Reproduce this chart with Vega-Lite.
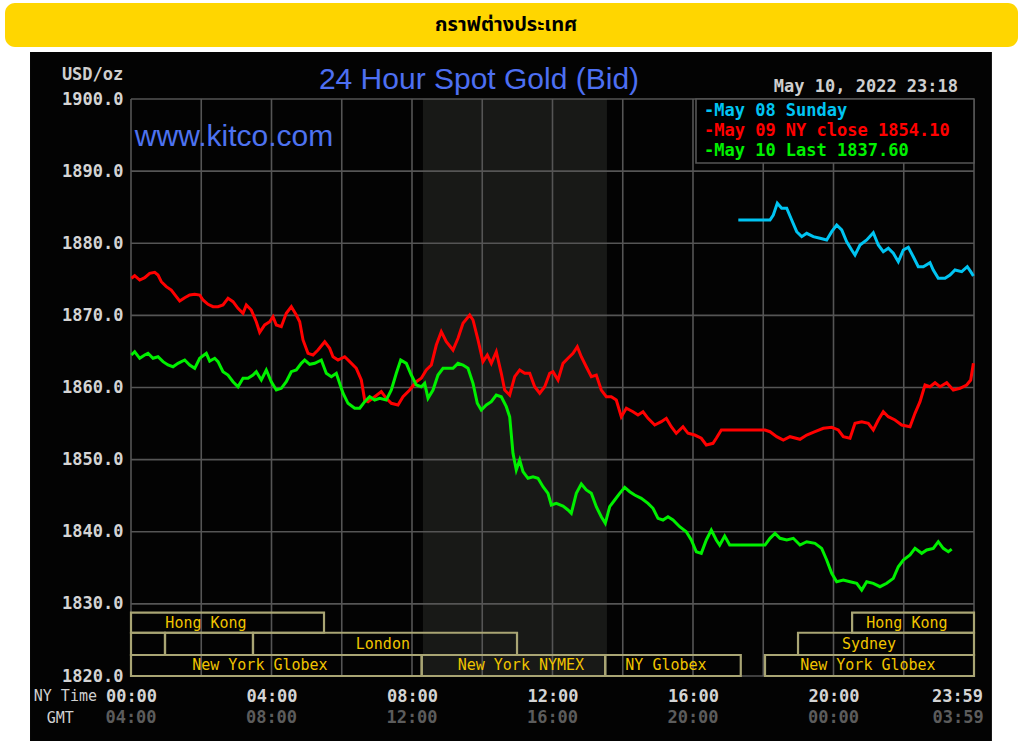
{
  "$schema": "https://vega.github.io/schema/vega-lite/v6.json",
  "width": 843,
  "height": 577,
  "autosize": {"type": "none"},
  "padding": {"left": 131, "top": 99, "right": 49, "bottom": 71},
  "background": "#ffffff",
  "config": {"view": {"stroke": null}},
  "encoding": {
    "x": {
      "field": "h", "type": "quantitative",
      "scale": {"domain": [0, 24], "nice": false, "zero": false},
      "axis": {
        "values": [0, 4, 8, 12, 16, 20, 24],
        "labelExpr": "datum.value == 24 ? '23:59' : (datum.value < 10 ? '0' : '') + datum.value + ':00'",
        "grid": false, "domain": false, "ticks": false, "zindex": 2,
        "labelFlush": false, "labelOverlap": false, "labelBound": false,
        "labelBaseline": "middle", "labelPadding": 20,
        "labelOffset": {"condition": {"test": "datum.value == 24", "value": -17}, "value": 0},
        "labelFont": "DejaVu Sans Mono", "labelFontWeight": "bold", "labelFontSize": 17,
        "labelColor": "#d4d4d4", "title": null
      }
    },
    "y": {
      "field": "p", "type": "quantitative",
      "scale": {"domain": [1820, 1900], "nice": false, "zero": false},
      "axis": {
        "values": [1820, 1830, 1840, 1850, 1860, 1870, 1880, 1890, 1900],
        "format": ".1f",
        "grid": false, "domain": false, "ticks": false, "zindex": 2,
        "labelOverlap": false, "labelFlush": false,
        "labelPadding": 8,
        "labelFont": "DejaVu Sans Mono", "labelFontWeight": "bold", "labelFontSize": 17,
        "labelColor": "#d4d4d4", "title": null
      }
    }
  },
  "layer": [
    {
      "data": {"values": [{"h": -3.587, "h2": 25.253, "p": 1913.31, "p2": 1907.21}]},
      "mark": {"type": "rect", "fill": "#FFD600", "cornerRadius": 10},
      "encoding": {"x2": {"field": "h2"}, "y2": {"field": "p2"}}
    },
    {
      "data": {"values": [{"h": 10.68, "p": 1910.26, "t": "กราฟต่างประเทศ"}]},
      "mark": {"type": "text", "font": "Noto Sans Thai, Noto Sans, DejaVu Sans, sans-serif", "fontSize": 20, "fontWeight": "bold", "color": "#000000", "align": "center", "baseline": "middle"},
      "encoding": {"text": {"field": "t"}}
    },
    {
      "data": {"values": [{"h": -2.875, "h2": 24.51, "p": 1906.52, "p2": 1810.99}]},
      "mark": {"type": "rect", "fill": "#030303"},
      "encoding": {"x2": {"field": "h2"}, "y2": {"field": "p2"}}
    },
    {
      "data": {"values": [{"h": 8.31, "h2": 13.55, "p": 1820, "p2": 1900}]},
      "mark": {"type": "rect", "fill": "#181917"},
      "encoding": {"x2": {"field": "h2"}, "y2": {"field": "p2"}}
    },
    {
      "data": {"values": [
        {"h": 0, "h2": 24, "p": 1820}, {"h": 0, "h2": 24, "p": 1830}, {"h": 0, "h2": 24, "p": 1840},
        {"h": 0, "h2": 24, "p": 1850}, {"h": 0, "h2": 24, "p": 1860}, {"h": 0, "h2": 24, "p": 1870},
        {"h": 0, "h2": 24, "p": 1880}, {"h": 0, "h2": 24, "p": 1890}, {"h": 0, "h2": 24, "p": 1900}
      ]},
      "mark": {"type": "rule", "stroke": "#555555", "strokeWidth": 1.6},
      "encoding": {"x2": {"field": "h2"}}
    },
    {
      "data": {"values": [
        {"h": 0, "p": 1820, "p2": 1900}, {"h": 2, "p": 1820, "p2": 1900}, {"h": 4, "p": 1820, "p2": 1900},
        {"h": 6, "p": 1820, "p2": 1900}, {"h": 8, "p": 1820, "p2": 1900}, {"h": 10, "p": 1820, "p2": 1900},
        {"h": 12, "p": 1820, "p2": 1900}, {"h": 14, "p": 1820, "p2": 1900}, {"h": 16, "p": 1820, "p2": 1900},
        {"h": 18, "p": 1820, "p2": 1900}, {"h": 20, "p": 1820, "p2": 1900}, {"h": 22, "p": 1820, "p2": 1900},
        {"h": 24, "p": 1820, "p2": 1900}
      ]},
      "mark": {"type": "rule", "stroke": "#555555", "strokeWidth": 1.6},
      "encoding": {"y2": {"field": "p2"}}
    },
    {
      "data": {"values": [
        {"h": 0, "h2": 5.495, "p": 1826.0, "p2": 1828.78},
        {"h": 20.53, "h2": 24, "p": 1826.0, "p2": 1828.78},
        {"h": 0, "h2": 0.968, "p": 1822.91, "p2": 1826.0},
        {"h": 0.968, "h2": 3.473, "p": 1822.91, "p2": 1826.0},
        {"h": 3.473, "h2": 10.99, "p": 1822.91, "p2": 1826.0},
        {"h": 18.99, "h2": 24, "p": 1822.91, "p2": 1826.0},
        {"h": 0, "h2": 8.276, "p": 1820, "p2": 1822.91},
        {"h": 8.276, "h2": 13.5, "p": 1820, "p2": 1822.91},
        {"h": 13.5, "h2": 17.36, "p": 1820, "p2": 1822.91},
        {"h": 18.05, "h2": 24, "p": 1820, "p2": 1822.91}
      ]},
      "mark": {"type": "rect", "fill": "#000000", "fillOpacity": 0, "stroke": "#a9a574", "strokeWidth": 2.2},
      "encoding": {"x2": {"field": "h2"}, "y2": {"field": "p2"}}
    },
    {
      "data": {"values": [
        {"h": 2.135, "p": 1827.39, "t": "Hong Kong"},
        {"h": 22.09, "p": 1827.39, "t": "Hong Kong"},
        {"h": 7.17, "p": 1824.45, "t": "London"},
        {"h": 21.01, "p": 1824.45, "t": "Sydney"},
        {"h": 3.67, "p": 1821.46, "t": "New York Globex"},
        {"h": 11.1, "p": 1821.46, "t": "New York NYMEX"},
        {"h": 15.23, "p": 1821.46, "t": "NY Globex"},
        {"h": 20.98, "p": 1821.46, "t": "New York Globex"}
      ]},
      "mark": {"type": "text", "font": "DejaVu Sans Mono", "fontSize": 15, "color": "#f0c400", "align": "center", "baseline": "middle"},
      "encoding": {"text": {"field": "t"}}
    },
    {
      "data": {"values": [{"h": 16.085, "h2": 24, "p": 1891.13, "p2": 1900}]},
      "mark": {"type": "rect", "fill": "#000000", "stroke": "#555555", "strokeWidth": 1.6},
      "encoding": {"x2": {"field": "h2"}, "y2": {"field": "p2"}}
    },
    {
      "data": {"values": [
        {"h": 16.313, "p": 1898.34, "s": "May 08", "t": "-May 08 Sunday"},
        {"h": 16.313, "p": 1895.56, "s": "May 09", "t": "-May 09 NY close 1854.10"},
        {"h": 16.313, "p": 1892.79, "s": "May 10", "t": "-May 10 Last 1837.60"}
      ]},
      "mark": {"type": "text", "font": "DejaVu Sans Mono", "fontWeight": "bold", "fontSize": 17, "align": "left", "baseline": "middle"},
      "encoding": {
        "text": {"field": "t"},
        "color": {"field": "s", "type": "nominal", "scale": {"domain": ["May 08", "May 09", "May 10"], "range": ["#00c4f2", "#ff0000", "#00f000"]}, "legend": null}
      }
    },
    {
      "data": {"values": [
        {"s": "May 08", "h": 17.29, "p": 1883.22}, {"s": "May 08", "h": 18.192, "p": 1883.22}, {"s": "May 08", "h": 18.286, "p": 1883.92},
        {"s": "May 08", "h": 18.4, "p": 1885.54}, {"s": "May 08", "h": 18.525, "p": 1884.85}, {"s": "May 08", "h": 18.668, "p": 1884.85},
        {"s": "May 08", "h": 18.81, "p": 1883.22}, {"s": "May 08", "h": 18.952, "p": 1881.6}, {"s": "May 08", "h": 19.095, "p": 1880.91},
        {"s": "May 08", "h": 19.237, "p": 1881.38}, {"s": "May 08", "h": 19.425, "p": 1880.91}, {"s": "May 08", "h": 19.616, "p": 1880.69},
        {"s": "May 08", "h": 19.806, "p": 1880.45}, {"s": "May 08", "h": 19.949, "p": 1881.6}, {"s": "May 08", "h": 20.091, "p": 1882.53},
        {"s": "May 08", "h": 20.234, "p": 1881.84}, {"s": "May 08", "h": 20.376, "p": 1880.21}, {"s": "May 08", "h": 20.518, "p": 1879.06},
        {"s": "May 08", "h": 20.612, "p": 1878.37}, {"s": "May 08", "h": 20.754, "p": 1879.76}, {"s": "May 08", "h": 20.945, "p": 1880.45},
        {"s": "May 08", "h": 21.133, "p": 1881.46}, {"s": "May 08", "h": 21.275, "p": 1879.76}, {"s": "May 08", "h": 21.418, "p": 1878.83},
        {"s": "May 08", "h": 21.56, "p": 1879.3}, {"s": "May 08", "h": 21.703, "p": 1878.61}, {"s": "May 08", "h": 21.845, "p": 1877.44},
        {"s": "May 08", "h": 21.987, "p": 1879.06}, {"s": "May 08", "h": 22.13, "p": 1879.44}, {"s": "May 08", "h": 22.272, "p": 1878.13},
        {"s": "May 08", "h": 22.414, "p": 1876.75}, {"s": "May 08", "h": 22.557, "p": 1876.75}, {"s": "May 08", "h": 22.747, "p": 1877.3},
        {"s": "May 08", "h": 22.841, "p": 1876.29}, {"s": "May 08", "h": 22.983, "p": 1875.14}, {"s": "May 08", "h": 23.174, "p": 1875.14},
        {"s": "May 08", "h": 23.317, "p": 1875.6}, {"s": "May 08", "h": 23.459, "p": 1876.29}, {"s": "May 08", "h": 23.65, "p": 1876.06},
        {"s": "May 08", "h": 23.809, "p": 1876.75}, {"s": "May 08", "h": 23.906, "p": 1876.06}, {"s": "May 08", "h": 23.983, "p": 1875.46},

        {"s": "May 09", "h": 0.01, "p": 1875.14}, {"s": "May 09", "h": 0.105, "p": 1875.5}, {"s": "May 09", "h": 0.248, "p": 1874.9},
        {"s": "May 09", "h": 0.39, "p": 1875.22}, {"s": "May 09", "h": 0.532, "p": 1875.83}, {"s": "May 09", "h": 0.675, "p": 1875.97},
        {"s": "May 09", "h": 0.769, "p": 1875.6}, {"s": "May 09", "h": 0.863, "p": 1874.67}, {"s": "May 09", "h": 1.005, "p": 1873.98},
        {"s": "May 09", "h": 1.147, "p": 1873.52}, {"s": "May 09", "h": 1.29, "p": 1872.59}, {"s": "May 09", "h": 1.386, "p": 1871.99},
        {"s": "May 09", "h": 1.529, "p": 1872.45}, {"s": "May 09", "h": 1.671, "p": 1872.82}, {"s": "May 09", "h": 1.814, "p": 1872.92},
        {"s": "May 09", "h": 1.956, "p": 1872.82}, {"s": "May 09", "h": 2.05, "p": 1872.13}, {"s": "May 09", "h": 2.192, "p": 1871.54},
        {"s": "May 09", "h": 2.335, "p": 1871.2}, {"s": "May 09", "h": 2.477, "p": 1871.2}, {"s": "May 09", "h": 2.619, "p": 1871.44},
        {"s": "May 09", "h": 2.762, "p": 1872.37}, {"s": "May 09", "h": 2.904, "p": 1871.9}, {"s": "May 09", "h": 3.046, "p": 1870.98},
        {"s": "May 09", "h": 3.189, "p": 1870.29}, {"s": "May 09", "h": 3.283, "p": 1871.44}, {"s": "May 09", "h": 3.425, "p": 1870.74},
        {"s": "May 09", "h": 3.567, "p": 1869.12}, {"s": "May 09", "h": 3.664, "p": 1867.65}, {"s": "May 09", "h": 3.806, "p": 1868.67},
        {"s": "May 09", "h": 3.949, "p": 1869.12}, {"s": "May 09", "h": 4.043, "p": 1869.82}, {"s": "May 09", "h": 4.137, "p": 1868.67},
        {"s": "May 09", "h": 4.279, "p": 1868.43}, {"s": "May 09", "h": 4.421, "p": 1870.29}, {"s": "May 09", "h": 4.564, "p": 1871.2},
        {"s": "May 09", "h": 4.706, "p": 1870.05}, {"s": "May 09", "h": 4.803, "p": 1869.12}, {"s": "May 09", "h": 4.897, "p": 1866.59},
        {"s": "May 09", "h": 5.039, "p": 1864.74}, {"s": "May 09", "h": 5.181, "p": 1864.51}, {"s": "May 09", "h": 5.324, "p": 1865.2},
        {"s": "May 09", "h": 5.515, "p": 1866.35}, {"s": "May 09", "h": 5.657, "p": 1865.43}, {"s": "May 09", "h": 5.751, "p": 1864.27},
        {"s": "May 09", "h": 5.893, "p": 1863.81}, {"s": "May 09", "h": 6.084, "p": 1864.27}, {"s": "May 09", "h": 6.226, "p": 1863.58},
        {"s": "May 09", "h": 6.414, "p": 1862.66}, {"s": "May 09", "h": 6.557, "p": 1861.04}, {"s": "May 09", "h": 6.653, "p": 1858.27},
        {"s": "May 09", "h": 6.747, "p": 1858.03}, {"s": "May 09", "h": 6.938, "p": 1858.72}, {"s": "May 09", "h": 7.126, "p": 1859.42},
        {"s": "May 09", "h": 7.268, "p": 1858.5}, {"s": "May 09", "h": 7.411, "p": 1857.81}, {"s": "May 09", "h": 7.601, "p": 1857.57},
        {"s": "May 09", "h": 7.744, "p": 1858.72}, {"s": "May 09", "h": 7.934, "p": 1859.65}, {"s": "May 09", "h": 8.122, "p": 1860.8},
        {"s": "May 09", "h": 8.265, "p": 1861.28}, {"s": "May 09", "h": 8.407, "p": 1862.43}, {"s": "May 09", "h": 8.55, "p": 1863.12},
        {"s": "May 09", "h": 8.692, "p": 1865.89}, {"s": "May 09", "h": 8.834, "p": 1867.74}, {"s": "May 09", "h": 8.977, "p": 1866.35},
        {"s": "May 09", "h": 9.167, "p": 1865.2}, {"s": "May 09", "h": 9.31, "p": 1866.82}, {"s": "May 09", "h": 9.452, "p": 1868.9},
        {"s": "May 09", "h": 9.643, "p": 1870.05}, {"s": "May 09", "h": 9.737, "p": 1869.36}, {"s": "May 09", "h": 9.879, "p": 1866.59},
        {"s": "May 09", "h": 10.021, "p": 1863.58}, {"s": "May 09", "h": 10.144, "p": 1864.51}, {"s": "May 09", "h": 10.258, "p": 1863.35},
        {"s": "May 09", "h": 10.4, "p": 1864.96}, {"s": "May 09", "h": 10.542, "p": 1861.97}, {"s": "May 09", "h": 10.639, "p": 1859.65},
        {"s": "May 09", "h": 10.781, "p": 1858.96}, {"s": "May 09", "h": 10.924, "p": 1861.5}, {"s": "May 09", "h": 11.066, "p": 1862.43},
        {"s": "May 09", "h": 11.208, "p": 1861.97}, {"s": "May 09", "h": 11.351, "p": 1861.97}, {"s": "May 09", "h": 11.493, "p": 1860.11},
        {"s": "May 09", "h": 11.636, "p": 1859.2}, {"s": "May 09", "h": 11.778, "p": 1860.11}, {"s": "May 09", "h": 11.92, "p": 1861.97},
        {"s": "May 09", "h": 12.014, "p": 1862.19}, {"s": "May 09", "h": 12.157, "p": 1861.04}, {"s": "May 09", "h": 12.299, "p": 1863.35},
        {"s": "May 09", "h": 12.441, "p": 1864.05}, {"s": "May 09", "h": 12.584, "p": 1864.74}, {"s": "May 09", "h": 12.706, "p": 1865.66},
        {"s": "May 09", "h": 12.82, "p": 1864.27}, {"s": "May 09", "h": 12.962, "p": 1862.88}, {"s": "May 09", "h": 13.105, "p": 1861.5},
        {"s": "May 09", "h": 13.247, "p": 1861.73}, {"s": "May 09", "h": 13.389, "p": 1859.65}, {"s": "May 09", "h": 13.532, "p": 1858.72},
        {"s": "May 09", "h": 13.674, "p": 1858.72}, {"s": "May 09", "h": 13.816, "p": 1858.27}, {"s": "May 09", "h": 13.959, "p": 1855.95},
        {"s": "May 09", "h": 14.101, "p": 1857.12}, {"s": "May 09", "h": 14.292, "p": 1856.64}, {"s": "May 09", "h": 14.434, "p": 1856.19},
        {"s": "May 09", "h": 14.577, "p": 1856.64}, {"s": "May 09", "h": 14.719, "p": 1855.73}, {"s": "May 09", "h": 14.91, "p": 1854.8},
        {"s": "May 09", "h": 15.097, "p": 1855.26}, {"s": "May 09", "h": 15.24, "p": 1855.73}, {"s": "May 09", "h": 15.382, "p": 1854.56},
        {"s": "May 09", "h": 15.524, "p": 1853.65}, {"s": "May 09", "h": 15.715, "p": 1854.56}, {"s": "May 09", "h": 15.858, "p": 1853.65},
        {"s": "May 09", "h": 16.048, "p": 1853.41}, {"s": "May 09", "h": 16.236, "p": 1852.96}, {"s": "May 09", "h": 16.379, "p": 1852.03},
        {"s": "May 09", "h": 16.569, "p": 1852.26}, {"s": "May 09", "h": 16.663, "p": 1852.96}, {"s": "May 09", "h": 16.806, "p": 1854.11},
        {"s": "May 09", "h": 16.996, "p": 1854.1}, {"s": "May 09", "h": 17.139, "p": 1854.1}, {"s": "May 09", "h": 18.05, "p": 1854.1},
        {"s": "May 09", "h": 18.192, "p": 1853.87}, {"s": "May 09", "h": 18.383, "p": 1853.18}, {"s": "May 09", "h": 18.571, "p": 1852.72},
        {"s": "May 09", "h": 18.762, "p": 1853.18}, {"s": "May 09", "h": 19.046, "p": 1852.82}, {"s": "May 09", "h": 19.237, "p": 1853.41},
        {"s": "May 09", "h": 19.473, "p": 1853.87}, {"s": "May 09", "h": 19.71, "p": 1854.34}, {"s": "May 09", "h": 19.949, "p": 1854.48},
        {"s": "May 09", "h": 20.137, "p": 1854.11}, {"s": "May 09", "h": 20.279, "p": 1853.18}, {"s": "May 09", "h": 20.47, "p": 1852.96},
        {"s": "May 09", "h": 20.612, "p": 1855.04}, {"s": "May 09", "h": 20.803, "p": 1855.26}, {"s": "May 09", "h": 20.991, "p": 1855.04},
        {"s": "May 09", "h": 21.133, "p": 1854.11}, {"s": "May 09", "h": 21.275, "p": 1855.49}, {"s": "May 09", "h": 21.418, "p": 1856.64},
        {"s": "May 09", "h": 21.56, "p": 1855.95}, {"s": "May 09", "h": 21.751, "p": 1855.49}, {"s": "May 09", "h": 21.942, "p": 1854.8},
        {"s": "May 09", "h": 22.178, "p": 1854.56}, {"s": "May 09", "h": 22.32, "p": 1856.42}, {"s": "May 09", "h": 22.463, "p": 1858.03},
        {"s": "May 09", "h": 22.605, "p": 1860.35}, {"s": "May 09", "h": 22.747, "p": 1860.11}, {"s": "May 09", "h": 22.89, "p": 1860.66},
        {"s": "May 09", "h": 23.032, "p": 1860.11}, {"s": "May 09", "h": 23.223, "p": 1860.66}, {"s": "May 09", "h": 23.41, "p": 1859.65},
        {"s": "May 09", "h": 23.601, "p": 1859.89}, {"s": "May 09", "h": 23.792, "p": 1860.35}, {"s": "May 09", "h": 23.906, "p": 1861.04},
        {"s": "May 09", "h": 23.983, "p": 1863.35},

        {"s": "May 10", "h": 0.01, "p": 1864.51}, {"s": "May 10", "h": 0.105, "p": 1864.96}, {"s": "May 10", "h": 0.248, "p": 1864.05},
        {"s": "May 10", "h": 0.39, "p": 1864.51}, {"s": "May 10", "h": 0.484, "p": 1864.74}, {"s": "May 10", "h": 0.626, "p": 1864.05},
        {"s": "May 10", "h": 0.769, "p": 1864.27}, {"s": "May 10", "h": 0.911, "p": 1863.58}, {"s": "May 10", "h": 1.053, "p": 1863.12},
        {"s": "May 10", "h": 1.196, "p": 1862.88}, {"s": "May 10", "h": 1.338, "p": 1863.35}, {"s": "May 10", "h": 1.529, "p": 1863.81},
        {"s": "May 10", "h": 1.671, "p": 1863.12}, {"s": "May 10", "h": 1.814, "p": 1862.66}, {"s": "May 10", "h": 1.956, "p": 1864.05},
        {"s": "May 10", "h": 2.144, "p": 1864.74}, {"s": "May 10", "h": 2.241, "p": 1863.67}, {"s": "May 10", "h": 2.383, "p": 1864.05},
        {"s": "May 10", "h": 2.477, "p": 1863.58}, {"s": "May 10", "h": 2.619, "p": 1862.19}, {"s": "May 10", "h": 2.762, "p": 1861.73},
        {"s": "May 10", "h": 2.904, "p": 1860.8}, {"s": "May 10", "h": 3.046, "p": 1860.11}, {"s": "May 10", "h": 3.189, "p": 1861.28},
        {"s": "May 10", "h": 3.331, "p": 1861.28}, {"s": "May 10", "h": 3.473, "p": 1861.73}, {"s": "May 10", "h": 3.567, "p": 1862.19},
        {"s": "May 10", "h": 3.71, "p": 1861.04}, {"s": "May 10", "h": 3.852, "p": 1862.43}, {"s": "May 10", "h": 3.994, "p": 1860.8},
        {"s": "May 10", "h": 4.137, "p": 1859.65}, {"s": "May 10", "h": 4.279, "p": 1859.89}, {"s": "May 10", "h": 4.421, "p": 1860.8},
        {"s": "May 10", "h": 4.564, "p": 1862.19}, {"s": "May 10", "h": 4.706, "p": 1862.43}, {"s": "May 10", "h": 4.848, "p": 1863.35},
        {"s": "May 10", "h": 4.945, "p": 1863.81}, {"s": "May 10", "h": 5.088, "p": 1863.22}, {"s": "May 10", "h": 5.23, "p": 1863.35},
        {"s": "May 10", "h": 5.418, "p": 1863.81}, {"s": "May 10", "h": 5.56, "p": 1861.97}, {"s": "May 10", "h": 5.703, "p": 1861.5},
        {"s": "May 10", "h": 5.845, "p": 1861.97}, {"s": "May 10", "h": 5.987, "p": 1859.89}, {"s": "May 10", "h": 6.036, "p": 1859.2},
        {"s": "May 10", "h": 6.178, "p": 1857.81}, {"s": "May 10", "h": 6.369, "p": 1857.12}, {"s": "May 10", "h": 6.511, "p": 1857.12},
        {"s": "May 10", "h": 6.653, "p": 1858.03}, {"s": "May 10", "h": 6.796, "p": 1858.72}, {"s": "May 10", "h": 6.938, "p": 1858.27},
        {"s": "May 10", "h": 7.081, "p": 1858.5}, {"s": "May 10", "h": 7.268, "p": 1858.27}, {"s": "May 10", "h": 7.411, "p": 1859.65},
        {"s": "May 10", "h": 7.553, "p": 1861.97}, {"s": "May 10", "h": 7.678, "p": 1863.81}, {"s": "May 10", "h": 7.838, "p": 1863.35},
        {"s": "May 10", "h": 7.98, "p": 1861.73}, {"s": "May 10", "h": 8.122, "p": 1860.35}, {"s": "May 10", "h": 8.265, "p": 1860.11},
        {"s": "May 10", "h": 8.361, "p": 1860.58}, {"s": "May 10", "h": 8.456, "p": 1858.5}, {"s": "May 10", "h": 8.598, "p": 1859.65},
        {"s": "May 10", "h": 8.74, "p": 1861.73}, {"s": "May 10", "h": 8.883, "p": 1862.66}, {"s": "May 10", "h": 9.025, "p": 1862.66},
        {"s": "May 10", "h": 9.167, "p": 1862.66}, {"s": "May 10", "h": 9.31, "p": 1863.35}, {"s": "May 10", "h": 9.452, "p": 1863.12},
        {"s": "May 10", "h": 9.594, "p": 1862.66}, {"s": "May 10", "h": 9.737, "p": 1860.58}, {"s": "May 10", "h": 9.859, "p": 1857.81},
        {"s": "May 10", "h": 9.973, "p": 1856.88}, {"s": "May 10", "h": 10.115, "p": 1857.57}, {"s": "May 10", "h": 10.258, "p": 1858.03},
        {"s": "May 10", "h": 10.4, "p": 1858.96}, {"s": "May 10", "h": 10.542, "p": 1858.72}, {"s": "May 10", "h": 10.685, "p": 1857.34},
        {"s": "May 10", "h": 10.781, "p": 1855.95}, {"s": "May 10", "h": 10.875, "p": 1850.88}, {"s": "May 10", "h": 10.969, "p": 1848.56},
        {"s": "May 10", "h": 11.066, "p": 1849.95}, {"s": "May 10", "h": 11.16, "p": 1848.33}, {"s": "May 10", "h": 11.302, "p": 1847.41},
        {"s": "May 10", "h": 11.445, "p": 1847.63}, {"s": "May 10", "h": 11.587, "p": 1847.41}, {"s": "May 10", "h": 11.73, "p": 1846.25},
        {"s": "May 10", "h": 11.872, "p": 1845.33}, {"s": "May 10", "h": 11.966, "p": 1843.71}, {"s": "May 10", "h": 12.108, "p": 1843.94},
        {"s": "May 10", "h": 12.299, "p": 1843.57}, {"s": "May 10", "h": 12.441, "p": 1843.02}, {"s": "May 10", "h": 12.535, "p": 1842.56},
        {"s": "May 10", "h": 12.678, "p": 1845.33}, {"s": "May 10", "h": 12.82, "p": 1846.62}, {"s": "May 10", "h": 12.962, "p": 1845.79},
        {"s": "May 10", "h": 13.105, "p": 1845.33}, {"s": "May 10", "h": 13.247, "p": 1843.47}, {"s": "May 10", "h": 13.389, "p": 1842.09},
        {"s": "May 10", "h": 13.503, "p": 1841.17}, {"s": "May 10", "h": 13.628, "p": 1843.47}, {"s": "May 10", "h": 13.771, "p": 1844.4},
        {"s": "May 10", "h": 13.913, "p": 1845.33}, {"s": "May 10", "h": 14.055, "p": 1846.16}, {"s": "May 10", "h": 14.198, "p": 1845.55},
        {"s": "May 10", "h": 14.34, "p": 1845.09}, {"s": "May 10", "h": 14.528, "p": 1844.64}, {"s": "May 10", "h": 14.719, "p": 1843.94},
        {"s": "May 10", "h": 14.861, "p": 1843.25}, {"s": "May 10", "h": 15.004, "p": 1841.86}, {"s": "May 10", "h": 15.146, "p": 1841.63},
        {"s": "May 10", "h": 15.288, "p": 1842.09}, {"s": "May 10", "h": 15.431, "p": 1841.63}, {"s": "May 10", "h": 15.621, "p": 1840.7},
        {"s": "May 10", "h": 15.809, "p": 1840.01}, {"s": "May 10", "h": 15.952, "p": 1838.86}, {"s": "May 10", "h": 16.094, "p": 1837.23},
        {"s": "May 10", "h": 16.236, "p": 1837.01}, {"s": "May 10", "h": 16.379, "p": 1838.86}, {"s": "May 10", "h": 16.521, "p": 1840.24},
        {"s": "May 10", "h": 16.663, "p": 1838.86}, {"s": "May 10", "h": 16.76, "p": 1838.16}, {"s": "May 10", "h": 16.902, "p": 1839.41},
        {"s": "May 10", "h": 17.045, "p": 1838.16}, {"s": "May 10", "h": 18.05, "p": 1838.16}, {"s": "May 10", "h": 18.192, "p": 1839.09},
        {"s": "May 10", "h": 18.335, "p": 1839.78}, {"s": "May 10", "h": 18.477, "p": 1839.09}, {"s": "May 10", "h": 18.668, "p": 1838.86},
        {"s": "May 10", "h": 18.856, "p": 1839.09}, {"s": "May 10", "h": 19.046, "p": 1838.16}, {"s": "May 10", "h": 19.237, "p": 1838.62},
        {"s": "May 10", "h": 19.473, "p": 1838.4}, {"s": "May 10", "h": 19.664, "p": 1837.7}, {"s": "May 10", "h": 19.806, "p": 1836.08},
        {"s": "May 10", "h": 19.949, "p": 1834.24}, {"s": "May 10", "h": 20.091, "p": 1833.07}, {"s": "May 10", "h": 20.279, "p": 1833.31},
        {"s": "May 10", "h": 20.47, "p": 1833.07}, {"s": "May 10", "h": 20.661, "p": 1832.85}, {"s": "May 10", "h": 20.803, "p": 1831.92},
        {"s": "May 10", "h": 20.945, "p": 1833.07}, {"s": "May 10", "h": 21.133, "p": 1832.85}, {"s": "May 10", "h": 21.324, "p": 1832.38},
        {"s": "May 10", "h": 21.515, "p": 1832.85}, {"s": "May 10", "h": 21.703, "p": 1833.54}, {"s": "May 10", "h": 21.845, "p": 1835.15},
        {"s": "May 10", "h": 21.987, "p": 1836.08}, {"s": "May 10", "h": 22.178, "p": 1836.78}, {"s": "May 10", "h": 22.32, "p": 1837.7},
        {"s": "May 10", "h": 22.511, "p": 1837.01}, {"s": "May 10", "h": 22.653, "p": 1837.47}, {"s": "May 10", "h": 22.841, "p": 1837.7},
        {"s": "May 10", "h": 22.983, "p": 1838.62}, {"s": "May 10", "h": 23.125, "p": 1837.7}, {"s": "May 10", "h": 23.268, "p": 1837.23},
        {"s": "May 10", "h": 23.365, "p": 1837.6}
      ]},
      "mark": {"type": "line", "strokeWidth": 3, "interpolate": "linear"},
      "encoding": {
        "color": {"field": "s", "type": "nominal", "scale": {"domain": ["May 08", "May 09", "May 10"], "range": ["#00c4f2", "#ff0000", "#00f000"]}, "legend": null},
        "strokeWidth": {"field": "s", "type": "nominal", "scale": {"domain": ["May 08", "May 09", "May 10"], "range": [4, 3, 3]}, "legend": null}
      }
    },
    {
      "data": {"values": [{"h": 9.907, "p": 1901.39, "t": "24 Hour Spot Gold (Bid)"}]},
      "mark": {"type": "text", "font": "Liberation Sans", "fontSize": 30, "color": "#4d6ff2", "align": "center", "baseline": "alphabetic"},
      "encoding": {"text": {"field": "t"}}
    },
    {
      "data": {"values": [{"h": 0.11, "p": 1893.48, "t": "www.kitco.com"}]},
      "mark": {"type": "text", "font": "Liberation Sans", "fontSize": 30, "color": "#4d72f0", "align": "left", "baseline": "alphabetic"},
      "encoding": {"text": {"field": "t"}}
    },
    {
      "data": {"values": [
        {"h": 23.546, "p": 1901.71, "t": "May 10, 2022 23:18"},
        {"h": -0.219, "p": 1903.33, "t": "USD/oz"}
      ]},
      "mark": {"type": "text", "font": "DejaVu Sans Mono", "fontWeight": "bold", "fontSize": 17, "color": "#cfcfcf", "align": "right", "baseline": "middle"},
      "encoding": {"text": {"field": "t"}}
    },
    {
      "data": {"values": [
        {"h": -0.968, "p": 1817.2, "t": "NY Time"},
        {"h": -1.63, "p": 1814.14, "t": "GMT"}
      ]},
      "mark": {"type": "text", "font": "DejaVu Sans Mono", "fontSize": 15, "color": "#d0d0d0", "align": "right", "baseline": "middle"},
      "encoding": {"text": {"field": "t"}}
    },
    {
      "data": {"values": [
        {"h": 0, "p": 1814.14, "t": "04:00"}, {"h": 4, "p": 1814.14, "t": "08:00"},
        {"h": 8, "p": 1814.14, "t": "12:00"}, {"h": 12, "p": 1814.14, "t": "16:00"},
        {"h": 16, "p": 1814.14, "t": "20:00"}, {"h": 20, "p": 1814.14, "t": "00:00"},
        {"h": 23.55, "p": 1814.14, "t": "03:59"}
      ]},
      "mark": {"type": "text", "font": "DejaVu Sans Mono", "fontWeight": "bold", "fontSize": 17, "color": "#5c5c5c", "align": "center", "baseline": "middle"},
      "encoding": {"text": {"field": "t"}}
    }
  ]
}
